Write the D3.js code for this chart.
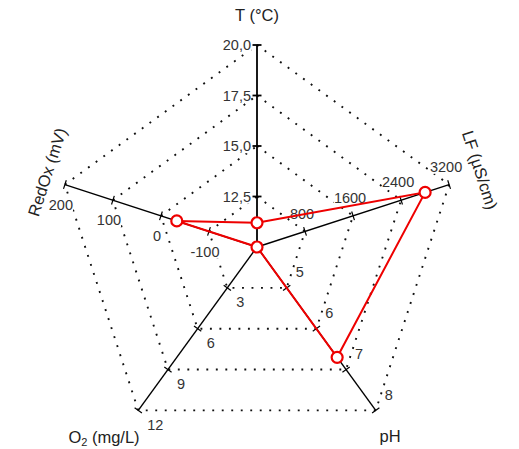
<!DOCTYPE html>
<html lang="en">
<head>
    <meta charset="UTF-8">
    <title>Radar</title>
    <script src="https://d3js.org/d3.v7.min.js"></script>
    <style>
      body { margin: 0; background: #fff; }
      text { font-family: "Liberation Sans", Arial, sans-serif; }
    </style>
</head>
<body>
    <svg id="radar" width="519" height="449"></svg>
    <script>
      // axes clockwise from the top
      const axisNames = ["T (°C)", "LF (µS/cm)", "pH", "O2 (mg/L)", "RedOx (mV)"];
      const axisMin = [10, 0, 4, 0, -200];
      const axisMax = [20, 3200, 8, 12, 200];
      const tickValues = [
        [12.5, 15, 17.5, 20],
        [800, 1600, 2400, 3200],
        [5, 6, 7, 8],
        [3, 6, 9, 12],
        [-100, 0, 100, 200]
      ];
      const tickLabels = [
        ["12,5", "15,0", "17,5", "20,0"],
        ["800", "1600", "2400", "3200"],
        ["5", "6", "7", "8"],
        ["3", "6", "9", "12"],
        ["-100", "0", "100", "200"]
      ];
      const values = [11.2, 2800, 6.7, 0, -33];

      const svg = d3.select("#radar");
      const cx = 257, cy = 247, R = 202;

      const angle = d3.scaleLinear().domain([0, axisNames.length]).range([0, 2 * Math.PI]);
      const scales = axisNames.map((n, i) =>
        d3.scaleLinear().domain([axisMin[i], axisMax[i]]).range([0, R]));

      function pt(i, v) {
        const r = scales[i](v), a = angle(i);
        return [cx + r * Math.sin(a), cy - r * Math.cos(a)];
      }

      // dotted grid rings
      const grid = svg.append("g");
      [0, 1, 2, 3].forEach(k => {
        const ring = axisNames.map((n, i) => pt(i, tickValues[i][k]));
        grid.append("path")
          .attr("d", d3.line()(ring) + "Z")
          .attr("fill", "none")
          .attr("stroke", "#111")
          .attr("stroke-width", 1.9)
          .attr("stroke-dasharray", "1.9,7.6");
      });

      // tick labels with white boxes
      const labelOffsets = [[-6, 0], [-3, -18], [9, -16], [9, 14], [-4, 20]];
      const anchors = ["end", "middle", "start", "start", "middle"];
      const labels = svg.append("g");
      axisNames.forEach((n, i) => {
        tickValues[i].forEach((v, k) => {
          const p = pt(i, v);
          const g = labels.append("g");
          const t = g.append("text")
            .attr("x", p[0] + labelOffsets[i][0])
            .attr("y", p[1] + labelOffsets[i][1])
            .attr("dy", "0.36em")
            .attr("text-anchor", anchors[i])
            .attr("font-size", 14.5)
            .attr("fill", "#333")
            .text(tickLabels[i][k]);
          const b = t.node().getBBox();
          g.insert("rect", "text")
            .attr("x", b.x).attr("y", b.y + 2)
            .attr("width", b.width).attr("height", b.height - 3)
            .attr("fill", "#fff");
        });
      });

      // axis lines and tick marks
      const axesG = svg.append("g");
      axisNames.forEach((n, i) => {
        const p0 = pt(i, axisMin[i]), p1 = pt(i, axisMax[i]);
        axesG.append("line")
          .attr("x1", p0[0]).attr("y1", p0[1])
          .attr("x2", p1[0]).attr("y2", p1[1])
          .attr("stroke", "#000")
          .attr("stroke-width", i === 0 ? 1.8 : 1.4);
        const a = angle(i);
        const ux = Math.cos(a), uy = Math.sin(a);
        tickValues[i].forEach(v => {
          const p = pt(i, v);
          axesG.append("line")
            .attr("x1", p[0] - 4.5 * ux).attr("y1", p[1] - 4.5 * uy)
            .attr("x2", p[0] + 4.5 * ux).attr("y2", p[1] + 4.5 * uy)
            .attr("stroke", "#000")
            .attr("stroke-width", i === 0 ? 1.8 : 1.2);
        });
      });

      // axis titles
      const titles = svg.append("g").attr("font-size", 16.5).attr("fill", "#222");
      titles.append("text").attr("x", 257).attr("y", 15).attr("dy", "0.36em")
        .attr("text-anchor", "middle").text(axisNames[0]);
      titles.append("text").attr("transform", "translate(480,170) rotate(72)")
        .attr("dy", "0.36em").attr("text-anchor", "middle").text(axisNames[1]);
      titles.append("text").attr("x", 390).attr("y", 436).attr("dy", "0.36em")
        .attr("text-anchor", "middle").text(axisNames[2]);
      const o2 = titles.append("text").attr("x", 104).attr("y", 437).attr("dy", "0.36em")
        .attr("text-anchor", "middle");
      o2.append("tspan").text("O");
      o2.append("tspan").attr("font-size", 11).attr("dy", "0.3em").text("2");
      o2.append("tspan").attr("dy", "-0.2em").text(" (mg/L)");
      titles.append("text").attr("transform", "translate(47,172) rotate(-72)")
        .attr("dy", "0.36em").attr("text-anchor", "middle").text(axisNames[4]);

      // data polygon
      const dataPts = values.map((v, i) => pt(i, v));
      svg.append("path")
        .attr("d", d3.line()(dataPts) + "Z")
        .attr("fill", "none")
        .attr("stroke", "#ee0000")
        .attr("stroke-width", 2);
      svg.append("g").selectAll("circle")
        .data(dataPts)
        .join("circle")
        .attr("cx", d => d[0])
        .attr("cy", d => d[1])
        .attr("r", 5.5)
        .attr("fill", "#fff")
        .attr("stroke", "#ee0000")
        .attr("stroke-width", 2.2);
    </script>
</body>
</html>
